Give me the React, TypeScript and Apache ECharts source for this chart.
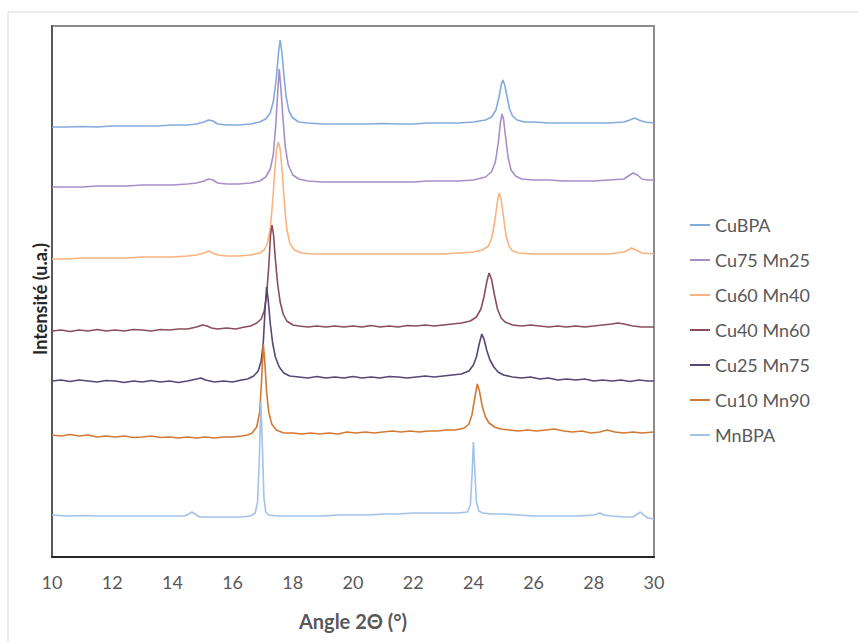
import React, { useEffect, useRef } from "react";
import * as echarts from "echarts";

const seriesNames = ["CuBPA", "Cu75 Mn25", "Cu60 Mn40", "Cu40 Mn60", "Cu25 Mn75", "Cu10 Mn90", "MnBPA"];
const seriesColors = ["#84AADD", "#A68FC9", "#F8B37E", "#8A4D5C", "#574777", "#D27A35", "#A2C2E8"];
const xTicks = [10, 12, 14, 16, 18, 20, 22, 24, 26, 28, 30];

const cuBPA = [
  [10, 430], [10.5, 430], [11, 430.5], [11.5, 430], [12, 431], [12.5, 431], [13, 431], [13.5, 431], [14, 432], [14.5, 432], [14.8, 433], [15.05, 435], [15.2, 437], [15.35, 436], [15.5, 433], [15.8, 432], [16.2, 432], [16.6, 433], [16.9, 435], [17.1, 438], [17.25, 444], [17.35, 455], [17.45, 478], [17.52, 503], [17.58, 517], [17.64, 504], [17.71, 480], [17.78, 460], [17.87, 446], [18, 439], [18.2, 435], [18.5, 434], [19, 433], [19.5, 433], [20, 433], [20.5, 433], [21, 433.5], [21.5, 433], [22, 433], [22.5, 434], [23, 434], [23.5, 434], [24, 435], [24.4, 437], [24.6, 440], [24.75, 447], [24.85, 460], [24.93, 473], [24.98, 477], [25.04, 472], [25.12, 460], [25.2, 448], [25.3, 441], [25.45, 437], [25.7, 435], [26, 435], [26.5, 434], [27, 434], [27.5, 434], [28, 434], [28.5, 434], [29, 435], [29.2, 437], [29.35, 439], [29.5, 437], [29.7, 435], [30, 434],
];

const cu75mn25 = [
  [10, 370], [10.5, 370], [11, 370], [11.5, 371], [12, 371], [12.5, 371], [13, 372], [13.5, 372], [14, 372], [14.5, 373], [14.8, 374], [15.05, 376], [15.2, 378], [15.35, 377], [15.5, 374], [15.8, 373], [16.2, 373], [16.6, 374], [16.9, 376], [17.1, 380], [17.25, 388], [17.35, 402], [17.43, 430], [17.5, 465], [17.55, 488], [17.6, 470], [17.67, 440], [17.75, 410], [17.85, 392], [18, 382], [18.2, 378], [18.5, 376], [19, 375], [19.5, 375], [20, 375], [20.5, 375], [21, 375], [21.5, 375], [22, 375], [22.5, 376], [23, 376], [23.5, 376], [24, 377], [24.4, 380], [24.6, 385], [24.73, 395], [24.83, 415], [24.9, 435], [24.95, 443], [25.0, 438], [25.07, 420], [25.15, 400], [25.25, 387], [25.4, 381], [25.6, 378], [26, 377], [26.5, 377], [27, 376], [27.5, 376], [28, 376], [28.5, 377], [29, 378], [29.15, 381], [29.3, 384], [29.45, 382], [29.6, 378], [29.8, 377], [30, 377],
];

const cu60mn40 = [
  [10, 298], [10.5, 298], [11, 299], [11.5, 299], [12, 299], [12.5, 299], [13, 300], [13.5, 300], [14, 300], [14.5, 301], [14.8, 302], [15.05, 304], [15.2, 306], [15.35, 304], [15.5, 302], [15.8, 301], [16.2, 301], [16.6, 302], [16.9, 304], [17.05, 307], [17.15, 313], [17.25, 328], [17.33, 355], [17.4, 385], [17.46, 408], [17.52, 415], [17.58, 408], [17.65, 385], [17.73, 350], [17.8, 328], [17.9, 314], [18.05, 307], [18.3, 304], [18.7, 303], [19, 303], [19.5, 303], [20, 303], [20.5, 303], [21, 303], [21.5, 303], [22, 303], [22.5, 303], [23, 303], [23.5, 304], [24, 305], [24.3, 307], [24.5, 311], [24.62, 320], [24.72, 338], [24.8, 356], [24.86, 364], [24.92, 358], [25.0, 340], [25.08, 322], [25.18, 311], [25.3, 306], [25.5, 304], [26, 303], [26.5, 303], [27, 303], [27.5, 303], [28, 303], [28.5, 303], [29, 305], [29.15, 307], [29.25, 309], [29.4, 307], [29.6, 304], [30, 303],
];

const cu40mn60 = [
  [10, 226], [10.3, 227], [10.6, 225.5], [10.9, 227], [11.2, 226], [11.5, 227.5], [11.8, 226], [12.1, 227], [12.4, 226], [12.7, 227.5], [13, 227], [13.3, 226], [13.6, 227.5], [13.9, 227], [14.2, 228], [14.5, 228], [14.8, 230], [15.0, 232], [15.15, 231], [15.3, 229], [15.5, 228], [15.8, 229], [16.1, 228], [16.4, 230], [16.6, 231], [16.8, 234], [16.95, 238], [17.05, 246], [17.13, 262], [17.2, 290], [17.26, 322], [17.31, 332], [17.36, 322], [17.42, 298], [17.5, 272], [17.58, 255], [17.68, 243], [17.8, 236], [18, 232], [18.2, 231], [18.5, 230], [18.8, 231], [19.1, 230], [19.4, 231], [19.7, 230], [20, 231], [20.3, 230], [20.6, 231.5], [20.9, 230], [21.2, 231], [21.5, 230], [21.8, 231.5], [22.1, 231], [22.4, 232], [22.7, 231], [23, 232], [23.3, 233], [23.6, 234], [23.9, 236], [24.1, 240], [24.25, 248], [24.35, 260], [24.45, 276], [24.52, 284], [24.6, 278], [24.7, 262], [24.8, 248], [24.92, 239], [25.05, 235], [25.3, 232], [25.6, 231], [25.9, 232], [26.2, 231], [26.5, 230], [26.8, 231], [27.1, 230], [27.4, 231], [27.7, 230], [28, 231], [28.3, 232], [28.6, 233], [28.8, 234], [29, 233], [29.3, 231], [29.6, 230], [30, 230],
];

const cu25mn75 = [
  [10, 176], [10.3, 177], [10.6, 175.5], [10.9, 177], [11.2, 176], [11.5, 175], [11.8, 176.5], [12.1, 176], [12.4, 174.5], [12.7, 176], [13, 175], [13.3, 176.5], [13.6, 175], [13.9, 176], [14.2, 174.5], [14.5, 176], [14.8, 178], [14.95, 179], [15.1, 177], [15.4, 175], [15.7, 176], [16, 175], [16.3, 177], [16.5, 178], [16.7, 181], [16.85, 186], [16.95, 196], [17.02, 215], [17.08, 248], [17.13, 270], [17.18, 258], [17.25, 234], [17.33, 214], [17.42, 200], [17.55, 190], [17.7, 184], [17.9, 181], [18.2, 180], [18.5, 179], [18.8, 180.5], [19.1, 179], [19.4, 180], [19.7, 179], [20, 180.5], [20.3, 179], [20.6, 180], [20.9, 179], [21.2, 180.5], [21.5, 180], [21.8, 179], [22.1, 180], [22.4, 181], [22.7, 180], [23, 181], [23.3, 182], [23.6, 183], [23.85, 186], [24.0, 192], [24.1, 200], [24.2, 214], [24.28, 223], [24.35, 218], [24.45, 206], [24.55, 197], [24.68, 190], [24.82, 185], [25, 182], [25.3, 180], [25.6, 179], [25.9, 180], [26.2, 178], [26.5, 179], [26.8, 177], [27.1, 178], [27.4, 177], [27.7, 178], [28, 176], [28.3, 177], [28.6, 176], [28.9, 177], [29.2, 175.5], [29.5, 177], [29.8, 176], [30, 176],
];

const cu10mn90 = [
  [10, 122], [10.3, 121], [10.6, 122.5], [10.9, 121], [11.2, 122], [11.5, 120], [11.8, 121], [12.1, 120], [12.4, 121], [12.7, 119.5], [13, 120], [13.3, 121], [13.6, 119.5], [13.9, 120], [14.2, 119], [14.5, 120], [14.8, 119], [15.1, 120], [15.4, 119], [15.7, 120], [16, 120], [16.3, 121], [16.5, 122], [16.65, 124], [16.8, 130], [16.9, 145], [16.96, 175], [17.02, 213], [17.07, 195], [17.13, 165], [17.2, 145], [17.3, 133], [17.45, 127], [17.7, 124], [18, 124], [18.3, 123], [18.6, 124], [18.9, 123], [19.2, 124], [19.5, 123], [19.8, 125], [20.1, 124], [20.4, 125], [20.7, 124], [21, 125], [21.3, 126], [21.6, 125], [21.9, 126], [22.2, 125], [22.5, 126], [22.8, 126], [23.1, 127], [23.4, 127], [23.7, 129], [23.85, 133], [23.95, 142], [24.05, 160], [24.13, 173], [24.2, 166], [24.3, 150], [24.4, 140], [24.52, 134], [24.7, 130], [24.9, 128], [25.2, 127], [25.5, 126], [25.8, 127], [26.1, 126], [26.4, 127], [26.7, 128], [27, 126], [27.3, 125], [27.6, 126], [27.9, 124], [28.2, 125], [28.45, 127], [28.7, 125], [29, 124], [29.3, 125], [29.6, 124], [30, 125],
];

const mnBPA = [
  [10, 42], [10.5, 41], [11, 41.5], [11.5, 41], [12, 41], [12.5, 41], [13, 41], [13.5, 41], [14, 41], [14.4, 41], [14.55, 43], [14.65, 45], [14.75, 43], [14.9, 40], [15.3, 40], [15.8, 40], [16.3, 40], [16.6, 41], [16.75, 44], [16.83, 55], [16.89, 100], [16.94, 155], [16.99, 110], [17.04, 60], [17.1, 45], [17.2, 42], [17.5, 41], [18, 41], [18.5, 41], [19, 41], [19.5, 42], [20, 42], [20.5, 42], [21, 43], [21.5, 43], [22, 44], [22.5, 44], [23, 44], [23.5, 44], [23.8, 45], [23.9, 52], [23.96, 85], [24.0, 115], [24.05, 85], [24.1, 55], [24.18, 46], [24.3, 44], [24.6, 43], [25, 43], [25.5, 42], [26, 41], [26.5, 41], [27, 41], [27.5, 41], [28, 42], [28.2, 44], [28.35, 42], [28.6, 41], [29, 40], [29.3, 40], [29.45, 43], [29.55, 45], [29.65, 42], [29.8, 39], [30, 38],
];

const seriesData = [cuBPA, cu75mn25, cu60mn40, cu40mn60, cu25mn75, cu10mn90, mnBPA];

const FONT = "Lato, 'Open Sans', sans-serif";

export default function App() {
  const ref = useRef<HTMLDivElement>(null);
  useEffect(() => {
    document.body.style.margin = "0";
    const chart = echarts.init(ref.current!, undefined, { renderer: "svg" });
    chart.setOption({
      animation: false,
      backgroundColor: "#ffffff",
      textStyle: { fontFamily: FONT },
      graphic: [
        {
          type: "rect",
          shape: { x: 8, y: 12, width: 860, height: 640 },
          style: { fill: "none", stroke: "#d9d9d9", lineWidth: 1 },
          silent: true,
        },
        {
          type: "text",
          x: 40,
          y: 299,
          rotation: Math.PI / 2,
          style: {
            text: "Intensité (u.a.)",
            fill: "#262626",
            font: `bold 18px ${FONT}`,
            align: "center",
            verticalAlign: "middle",
          },
          silent: true,
        },
      ],
      grid: {
        left: 52,
        top: 26,
        right: 204,
        bottom: 85,
        show: true,
        borderColor: "#8c8c8c",
        borderWidth: 2,
        backgroundColor: "transparent",
      },
      legend: {
        orient: "vertical",
        left: 685,
        top: 210,
        itemWidth: 20,
        itemHeight: 2,
        itemGap: 15,
        icon: "rect",
        data: seriesNames,
        textStyle: { color: "#595959", fontSize: 18, lineHeight: 20, fontFamily: FONT },
      },
      xAxis: {
        type: "value",
        min: 10,
        max: 30,
        interval: 2,
        name: "Angle 2Θ (°)",
        nameLocation: "middle",
        nameGap: 54,
        nameTextStyle: { color: "#595959", fontSize: 20, fontWeight: "bold", fontFamily: FONT },
        axisLine: { show: true, lineStyle: { color: "#262626", width: 2 } },
        axisTick: { show: false },
        splitLine: { show: false },
        axisLabel: {
          color: "#595959",
          fontSize: 18,
          margin: 16,
          fontFamily: FONT,
          formatter: (v: number) => (xTicks.includes(v) ? String(v) : ""),
        },
      },
      yAxis: {
        type: "value",
        min: 0,
        max: 531,
        axisLine: { show: true, lineStyle: { color: "#595959", width: 2 } },
        axisTick: { show: false },
        axisLabel: { show: false },
        splitLine: { show: false },
      },
      series: seriesNames.map((name, i) => ({
        name,
        type: "line",
        data: seriesData[i],
        showSymbol: false,
        symbol: "none",
        smooth: false,
        lineStyle: { color: seriesColors[i], width: 1.6 },
        itemStyle: { color: seriesColors[i] },
        z: 2 + i,
      })),
    });
    return () => chart.dispose();
  }, []);
  return <div ref={ref} style={{ width: 858, height: 642 }} />;
}
